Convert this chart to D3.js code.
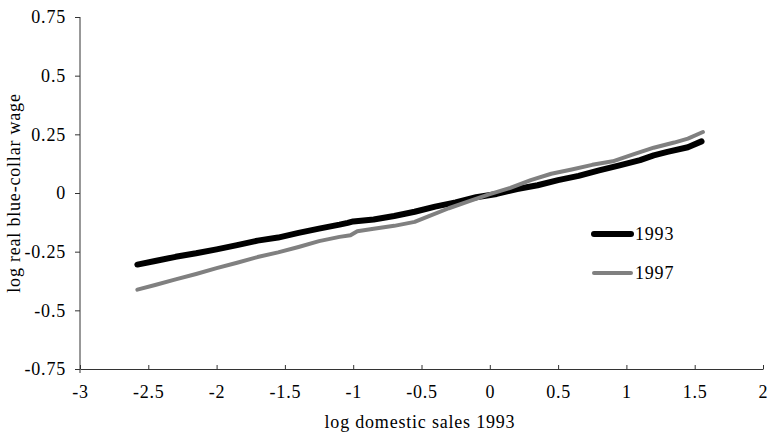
<!DOCTYPE html>
<html>
<head>
<meta charset="utf-8">
<script src="https://cdn.jsdelivr.net/npm/d3@7"></script>
<style>
  html, body { margin: 0; padding: 0; background: #fff; }
  svg { display: block; }
</style>
</head>
<body>
<svg id="chart" width="768" height="434"></svg>
<script>
// log domestic sales 1993 (x) against log real blue-collar wage (y)
const sales1993 = [-2.58, -2.45, -2.30, -2.15, -2.00, -1.85, -1.70, -1.55, -1.40, -1.25, -1.10, -1.04, -1.00, -0.85, -0.70, -0.55, -0.40, -0.25, -0.10, 0.05, 0.20, 0.35, 0.50, 0.65, 0.80, 0.95, 1.10, 1.20, 1.30, 1.45, 1.55];
const wage1993 = [-0.305, -0.290, -0.272, -0.257, -0.240, -0.222, -0.203, -0.190, -0.170, -0.152, -0.135, -0.127, -0.121, -0.113, -0.098, -0.080, -0.058, -0.040, -0.018, -0.004, 0.017, 0.033, 0.055, 0.073, 0.096, 0.118, 0.140, 0.160, 0.175, 0.195, 0.220];

const sales1997 = [-2.58, -2.45, -2.30, -2.15, -2.00, -1.85, -1.70, -1.55, -1.40, -1.25, -1.10, -1.02, -0.97, -0.85, -0.70, -0.55, -0.45, -0.30, -0.15, 0.00, 0.15, 0.30, 0.45, 0.60, 0.75, 0.90, 1.05, 1.20, 1.35, 1.45, 1.56];
const wage1997 = [-0.412, -0.392, -0.368, -0.345, -0.320, -0.297, -0.273, -0.253, -0.230, -0.205, -0.187, -0.180, -0.163, -0.152, -0.140, -0.123, -0.100, -0.065, -0.035, -0.005, 0.022, 0.055, 0.082, 0.100, 0.120, 0.135, 0.165, 0.193, 0.215, 0.232, 0.260];

const seriesNames = ["1993", "1997"];
const xTicks = [-3, -2.5, -2, -1.5, -1, -0.5, 0, 0.5, 1, 1.5, 2];
const yTicks = [-0.75, -0.5, -0.25, 0, 0.25, 0.5, 0.75];

const FONT = "'Liberation Serif', 'Times New Roman', serif";
const FONT_SIZE = "18px";
const SPACING = "0.8px";

const svg = d3.select("#chart");
const x = d3.scaleLinear().domain([-3, 2]).range([80, 763]);
const y = d3.scaleLinear().domain([-0.75, 0.75]).range([369, 17]);

const fmt = v => String(v);
const styleText = sel => sel.style("font-family", FONT).style("font-size", FONT_SIZE)
  .style("letter-spacing", SPACING).attr("fill", "#000");

// x axis: ticks point up into the plot
const gx = svg.append("g").attr("transform", `translate(0,${y.range()[0]})`)
  .call(d3.axisBottom(x).tickValues(xTicks).tickFormat(fmt).tickSizeInner(-4).tickSizeOuter(0).tickPadding(16));
// y axis: ticks point outward; its line runs a little past the x axis
const gy = svg.append("g").attr("transform", `translate(${x.range()[0]},0)`)
  .call(d3.axisLeft(y).tickValues(yTicks).tickFormat(fmt).tickSizeInner(5).tickSizeOuter(0).tickPadding(9));
gy.select(".domain").attr("d", `M0,${y.range()[1]}V${y.range()[0] + 4}`);

[gx, gy].forEach(g => {
  g.attr("font-family", null).attr("font-size", null);
  g.select(".domain").attr("stroke", "#333").attr("stroke-width", 1);
  g.selectAll(".tick line").attr("stroke", "#333");
  styleText(g.selectAll("text"));
});

// axis titles
svg.append("text").attr("x", 420).attr("y", 428).attr("text-anchor", "middle")
  .call(styleText).text("log domestic sales 1993");
svg.append("text").attr("transform", `translate(20,${y(0)}) rotate(-90)`).attr("text-anchor", "middle")
  .call(styleText).text("log real blue-collar wage");

const line = d3.line().x(d => x(d[0])).y(d => y(d[1]));
const series = [
  { name: seriesNames[0], pts: d3.zip(sales1993, wage1993), color: "#000", width: 6 },
  { name: seriesNames[1], pts: d3.zip(sales1997, wage1997), color: "#808080", width: 4 }
];

// 1993 first, 1997 drawn over it where the two cross
series.forEach(s => {
  svg.append("path").datum(s.pts).attr("d", line).attr("fill", "none")
    .attr("stroke", s.color).attr("stroke-width", s.width)
    .attr("stroke-linecap", "round").attr("stroke-linejoin", "round");
});

// legend
const legend = svg.append("g");
series.forEach((s, i) => {
  const ly = 234 + i * 39;
  legend.append("line").attr("x1", 594).attr("x2", 631).attr("y1", ly).attr("y2", ly)
    .attr("stroke", s.color).attr("stroke-width", s.width).attr("stroke-linecap", "round");
  legend.append("text").attr("x", 635).attr("y", ly + 6).call(styleText).text(s.name);
});
</script>
</body>
</html>
